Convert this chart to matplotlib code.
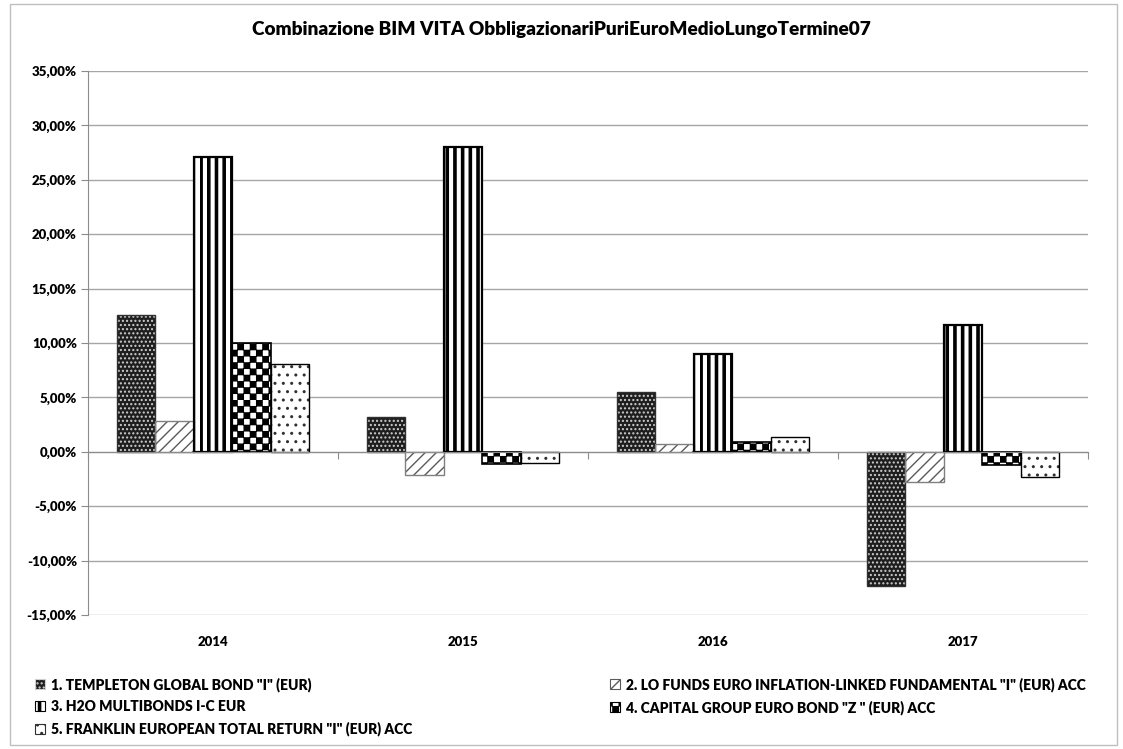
import numpy as np
import matplotlib
matplotlib.use("Agg")
import matplotlib.pyplot as plt
import matplotlib.hatch as mhatch
import matplotlib.patches as mpatches
from matplotlib.path import Path
from matplotlib.ticker import FuncFormatter

# Dati (rendimenti annui in %)
anni = ["2014", "2015", "2016", "2017"]
fondi = [
    '1. TEMPLETON GLOBAL BOND "I" (EUR)',
    '2. LO FUNDS EURO INFLATION-LINKED FUNDAMENTAL "I" (EUR) ACC',
    '3. H2O MULTIBONDS I-C EUR',
    '4. CAPITAL GROUP EURO BOND "Z " (EUR) ACC',
    '5. FRANKLIN EUROPEAN TOTAL RETURN "I" (EUR) ACC',
]
templeton = [12.6, 3.2, 5.5, -12.3]
lo_funds = [2.8, -2.1, 0.75, -2.75]
h2o = [27.1, 28.05, 8.95, 11.7]
capital = [10.0, -1.1, 0.9, -1.25]
franklin = [8.1, -1.0, 1.35, -2.35]
serie = [templeton, lo_funds, h2o, capital, franklin]
yticks = np.arange(-15, 36, 5)
titolo = "Combinazione BIM VITA ObbligazionariPuriEuroMedioLungoTermine07"

SQ = [Path.MOVETO, Path.LINETO, Path.LINETO, Path.LINETO, Path.CLOSEPOLY]


# Trama a scacchiera (al posto di '*')
class Scacchiera(mhatch.HatchPatternBase):
    def __init__(self, hatch, density):
        self.n = hatch.count('*') * 8
        self.celle = [(i, j) for i in range(self.n) for j in range(self.n)
                      if (i + j) % 2 == 0]
        self.num_vertices = len(self.celle) * 5

    def set_vertices_and_codes(self, vertices, codes):
        s = 1.0 / self.n
        d = 0.004
        q = np.array([[d, d], [s - d, d], [s - d, s - d], [d, s - d], [d, d]])
        for k, (i, j) in enumerate(self.celle):
            vertices[k*5:(k+1)*5] = q + [i*s, j*s]
            codes[k*5:(k+1)*5] = SQ


# Strisce verticali piene (al posto di 'O')
class Strisce(mhatch.HatchPatternBase):
    def __init__(self, hatch, density):
        self.n = hatch.count('O') * 13
        self.num_vertices = self.n * 5

    def set_vertices_and_codes(self, vertices, codes):
        s = 1.0 / self.n
        lw = 0.022
        for k in range(self.n):
            x0 = k * s
            vertices[k*5:(k+1)*5] = [[x0, -0.01], [x0 + lw, -0.01], [x0 + lw, 1.01],
                                     [x0, 1.01], [x0, -0.01]]
            codes[k*5:(k+1)*5] = SQ


mhatch._hatch_types = [c for c in mhatch._hatch_types
                       if c not in (mhatch.Stars, mhatch.LargeCircles)] + [Scacchiera, Strisce]

font = ['Lato', 'DejaVu Sans']
plt.rcParams['font.family'] = font
plt.rcParams['font.weight'] = 'heavy'

# stile per serie: faccia, tratteggio, colore tratteggio, bordo, spessore bordo
stili = [
    ('#1e1e1e', '....', '#cfcfcf', '#303030', 1.0),
    ('white', '///', '#5a5a5a', '#808080', 1.0),
    ('white', 'O', 'black', 'black', 1.6),
    ('white', '**', 'black', 'black', 1.2),
    ('white', '..', '#303030', 'black', 1.0),
]

fig = plt.figure(figsize=(11.23, 7.49), dpi=100)
ax = fig.add_axes([88/1123, 134/749, 1000/1123, 544/749])

x = np.arange(len(anni))
w = 1 / 6.5
for i, (vals, st) in enumerate(zip(serie, stili)):
    face, hatch, hcol, edge, lw = st
    pos = x + (i - 2) * w
    ax.bar(pos, vals, w, color=face, edgecolor=hcol, linewidth=0,
           hatch=hatch, zorder=2)
    ax.bar(pos, vals, w, color='none', edgecolor=edge, linewidth=lw, zorder=3)

ax.set_xlim(-0.5, len(anni) - 0.5)
ax.set_ylim(-15, 35)
ax.set_yticks(yticks)
ax.yaxis.set_major_formatter(FuncFormatter(lambda v, p: f"{v:.2f}%".replace('.', ',')))
ax.grid(axis='y', color='#a6a6a6', linewidth=1, zorder=0)
ax.tick_params(axis='y', length=5, color='#8c8c8c', labelsize=9.5, pad=3)
for s in ['top', 'right']:
    ax.spines[s].set_visible(False)
ax.spines['left'].set_color('#8c8c8c')
ax.spines['bottom'].set_position(('data', 0))
ax.spines['bottom'].set_color('#8c8c8c')
ax.spines['bottom'].set_zorder(4)
ax.set_xticks(np.arange(len(anni) + 1) - 0.5)
ax.tick_params(axis='x', length=5, color='#8c8c8c', labelbottom=False)

sec = ax.secondary_xaxis('bottom')
sec.set_xticks(x)
sec.set_xticklabels(anni)
sec.tick_params(length=0, labelsize=9.5, pad=15)
sec.spines['bottom'].set_visible(False)

fig.text(0.5, 1 - 30/749, titolo, ha='center', va='center', fontsize=13.7,
         fontweight='heavy')

# legenda
maniglie = []
for nome, st in zip(fondi, stili):
    face, hatch, hcol, edge, lw = st
    maniglie.append(mpatches.Patch(facecolor=face, edgecolor=hcol, hatch=hatch,
                                   linewidth=0.8, label=nome))
leg_kw = dict(frameon=False, fontsize=10, handlelength=0.75, handleheight=0.75,
              handletextpad=0.4, labelspacing=0.62, borderaxespad=0, borderpad=0)
l1 = fig.legend(handles=[maniglie[0], maniglie[2], maniglie[4]], loc='upper left',
                bbox_to_anchor=(35/1123, 1 - 677/749), **leg_kw)
l2 = fig.legend(handles=[maniglie[1], maniglie[3]], loc='upper left',
                bbox_to_anchor=(610/1123, 1 - 677/749), **leg_kw)

# bordo del grafico
fig.patches.append(mpatches.Rectangle((10/1123, 4/749), 1107/1123, 741/749,
                                      transform=fig.transFigure, fill=False,
                                      edgecolor='#bfbfbf', linewidth=1))

fig.savefig("out.png", dpi=100)
